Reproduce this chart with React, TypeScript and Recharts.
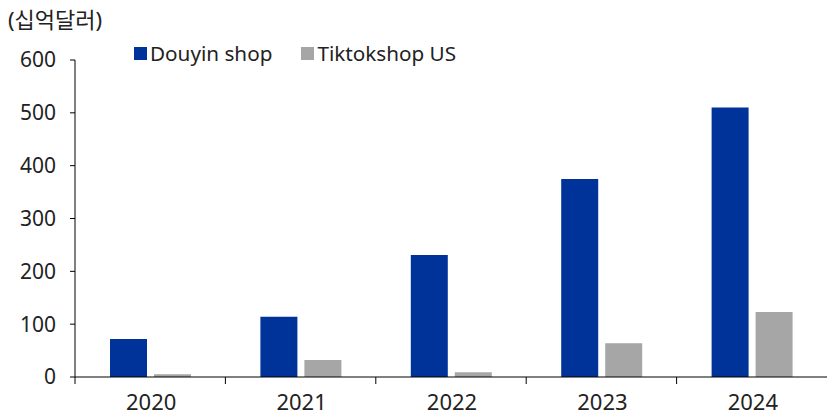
import React from "react";
import { BarChart, Bar, XAxis, YAxis } from "recharts";

const years = ["2020", "2021", "2022", "2023", "2024"];
const douyin = [72, 114, 231, 375, 510];
const tiktokUS = [5, 32, 9, 64, 123];
const yTicks = [0, 100, 200, 300, 400, 500, 600];
const seriesNames = ["Douyin shop", "Tiktokshop US"];
const seriesColors = ["#00339A", "#A6A6A6"];

const data = years.map((y, i) => ({ year: y, douyin: douyin[i], tiktok: tiktokUS[i] }));

const W = 827;
const H = 415;
const LEFT = 75;
const HALF_BAND = (W - LEFT) / years.length / 2;
const FONT = "'Noto Sans', 'Noto Sans CJK KR', sans-serif";
const TEXT = "#222222";

const XTick = (props: any) => {
  const { x, y, payload } = props;
  return (
    <g>
      <line x1={x - HALF_BAND} x2={x - HALF_BAND} y1={y} y2={y + 7} stroke="#000" strokeWidth={1} />
      <text x={x + 1} y={y + 33} textAnchor="middle" fill={TEXT} fontSize={22} fontFamily={FONT}>
        {payload.value}
      </text>
    </g>
  );
};

export default function App() {
  return (
    <div style={{ position: "absolute", left: 0, top: 0, width: W, height: H, background: "#fff" }}>
      <div
        style={{
          position: "absolute",
          left: 8,
          top: 5,
          fontFamily: FONT,
          fontSize: 22,
          color: TEXT,
          lineHeight: "28px",
        }}
      >
        (십억달러)
      </div>
      <div
        style={{
          position: "absolute",
          left: 134,
          top: 40,
          display: "flex",
          fontFamily: FONT,
          fontSize: 20.7,
          color: TEXT,
          lineHeight: "26px",
          zIndex: 2,
        }}
      >
        {seriesNames.map((n, i) => (
          <div key={n} style={{ display: "flex", alignItems: "center", marginRight: 29 }}>
            <span
              style={{ width: 13, height: 13, background: seriesColors[i], display: "inline-block", marginRight: 3 }}
            />
            <span>{n}</span>
          </div>
        ))}
      </div>
      <BarChart
        width={W}
        height={H}
        data={data}
        margin={{ top: 60, right: 0, bottom: 0, left: 0 }}
        barSize={37}
        barGap={7}
        style={{ overflow: "visible" }}
      >
        <XAxis
          dataKey="year"
          height={38}
          axisLine={{ stroke: "#000", strokeWidth: 1 }}
          tickLine={false}
          tickSize={0}
          tickMargin={0}
          tick={<XTick />}
          interval={0}
        />
        <YAxis
          width={LEFT}
          domain={[0, 600]}
          ticks={yTicks}
          axisLine={{ stroke: "#000", strokeWidth: 1 }}
          tickLine={{ stroke: "#000", strokeWidth: 1 }}
          tickSize={5}
          tickMargin={14}
          tick={{ fill: TEXT, fontSize: 21, fontFamily: FONT }}
          interval={0}
        />
        <Bar dataKey="douyin" name={seriesNames[0]} fill={seriesColors[0]} isAnimationActive={false} />
        <Bar dataKey="tiktok" name={seriesNames[1]} fill={seriesColors[1]} isAnimationActive={false} />
      </BarChart>
    </div>
  );
}
